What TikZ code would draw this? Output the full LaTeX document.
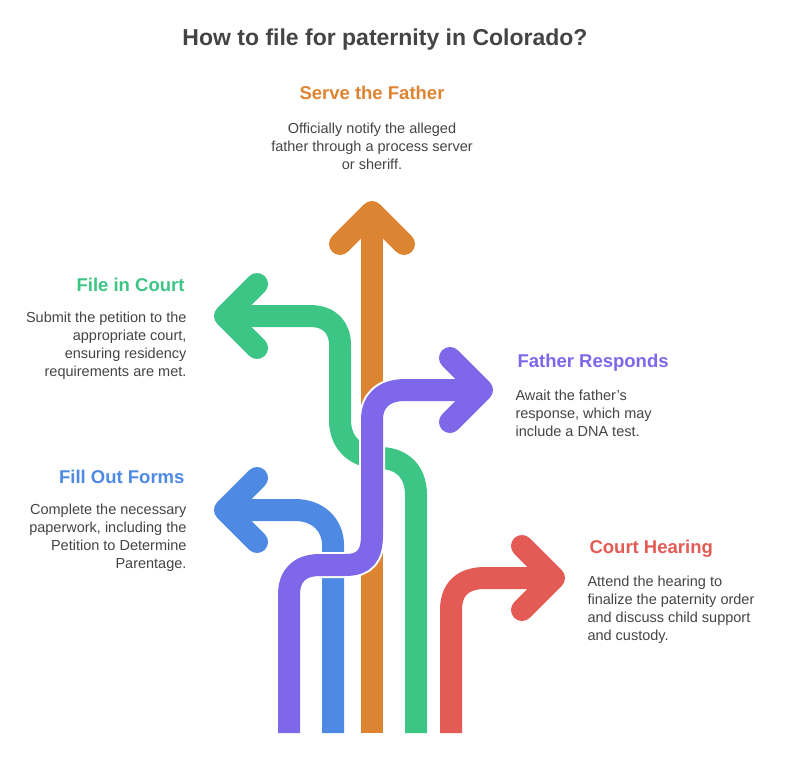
\documentclass[tikz,border=0pt]{standalone}
\usepackage{fontspec}
\setmainfont{Liberation Sans}
\definecolor{cor}{HTML}{DD8433}
\definecolor{cgr}{HTML}{3DC585}
\definecolor{cpu}{HTML}{7E67E8}
\definecolor{cbl}{HTML}{4E89E4}
\definecolor{cre}{HTML}{E45A55}
\definecolor{ctx}{HTML}{444444}
\begin{document}
\begin{tikzpicture}[x=1pt,y=-1pt,
  band/.style={line width=22pt,line cap=round,line join=round},
  wband/.style={line width=26pt,white},
  head/.style={band},
  ttl/.style={font=\bfseries\fontsize{18.5}{22}\selectfont},
  body/.style={font=\fontsize{14.5}{18}\selectfont,text=ctx}]
\useasboundingbox (0,0) rectangle (785,756);
\node[font=\bfseries\fontsize{23}{26}\selectfont,text=ctx] (title) at (385,40) {How to file for paternity in Colorado?};
% blue
\draw[band,cbl,line cap=butt] (333,733) -- (333,545) .. controls (333,525) and (318,510) .. (295,510) -- (225,510);
\draw[head,cbl] (257,478) -- (225,510) -- (257,542);
% green
\draw[band,cgr,line cap=butt] (416,733) -- (416,495) .. controls (416,470) and (400,458) .. (380,458) .. controls (358,458) and (340,445) .. (340,420) -- (340,345) .. controls (340,328) and (330,316) .. (310,316) -- (225,316);
\draw[head,cgr] (257,284) -- (225,316) -- (257,348);
% orange
\draw[band,cor,line cap=butt] (372,733) -- (372,212);
\draw[head,cor] (340,244) -- (372,212) -- (404,244);
% purple
\draw[line width=26pt,white] (289,733) -- (289,595) .. controls (289,575) and (300,565) .. (320,565) -- (345,565) .. controls (365,565) and (372,555) .. (372,535) -- (372,420) .. controls (372,400) and (385,390) .. (405,390) -- (480,390);
\draw[band,cpu,line cap=butt] (289,733) -- (289,595) .. controls (289,575) and (300,565) .. (320,565) -- (345,565) .. controls (365,565) and (372,555) .. (372,535) -- (372,420) .. controls (372,400) and (385,390) .. (405,390) -- (482,390);
\draw[head,cpu] (450,358) -- (482,390) -- (450,422);
% red
\draw[band,cre,line cap=butt] (451,733) -- (451,610) .. controls (451,590) and (462,578) .. (485,578) -- (554,578);
\draw[head,cre] (522,546) -- (554,578) -- (522,610);
% texts
\node[ttl,text=cor] (t1) at (372,93) {Serve the Father};
\node[body,align=center,anchor=north] (b1) at (372,119) {Officially notify the alleged\\father through a process server\\or sheriff.};
\node[ttl,text=cgr,anchor=east] (t2) at (188,285) {File in Court};
\node[body,align=right,anchor=north east] (b2) at (190,308) {Submit the petition to the\\appropriate court,\\ensuring residency\\requirements are met.};
\node[ttl,text=cpu,anchor=west] (t3) at (514,363) {Father Responds};
\node[body,align=left,anchor=north west] (b3) at (512,386) {Await the father's\\response, which may\\include a DNA test.};
\node[ttl,text=cbl,anchor=east] (t4) at (188,477) {Fill Out Forms};
\node[body,align=right,anchor=north east] (b4) at (190,500) {Complete the necessary\\paperwork, including the\\Petition to Determine\\Parentage.};
\node[ttl,text=cre,anchor=west] (t5) at (586,549) {Court Hearing};
\node[body,align=left,anchor=north west] (b5) at (584,572) {Attend the hearing to\\finalize the paternity order\\and discuss child support\\and custody.};
\end{tikzpicture}
\end{document}
